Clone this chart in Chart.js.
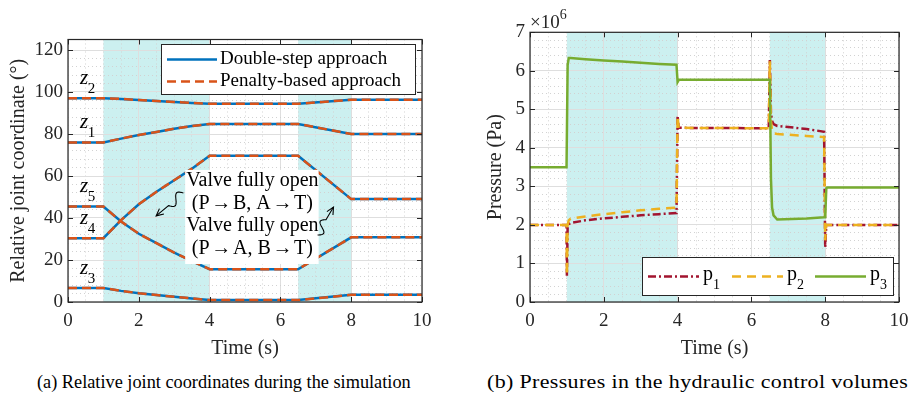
<!DOCTYPE html>
<html lang="en">
<head>
    <meta charset="UTF-8">
    <title>Joint coordinates and pressures</title>
    <script src="https://cdn.jsdelivr.net/npm/chart.js"></script>
    <style>
        body {
            margin: 0;
            width: 917px;
            height: 401px;
            position: relative;
            overflow: hidden;
            background: #fff;
            font-family: 'Liberation Serif', 'Times New Roman', serif;
        }
        .panel { position: absolute; top: 0; height: 365px; }
        #panelA { left: 0; width: 460px; }
        #panelB { left: 460px; width: 457px; }
        .caption {
            position: absolute;
            top: 372px;
            font-family: 'Liberation Serif', serif;
            font-size: 18.3px;
            white-space: nowrap;
            color: #000;
        }
        #capB { transform: scaleX(1.2); transform-origin: left center; letter-spacing: 0.3px; }
    </style>
</head>
<body>
    <div class="panel" id="panelA"><canvas id="jointChart"></canvas></div>
    <div class="panel" id="panelB"><canvas id="pressureChart"></canvas></div>
    <div class="caption" id="capA" style="left: 37px;">(a) Relative joint coordinates during the simulation</div>
    <div class="caption" id="capB" style="left: 487px;">(b) Pressures in the hydraulic control volumes</div>

    <script>
        // ---- data: (a) relative joint coordinates (deg) ----
        const timeA = [0, 1, 1.5, 2, 2.5, 3, 3.5, 4, 6.5, 8, 10];
        const z1 = [76, 76, 77.8, 79.5, 81, 82.5, 83.8, 84.8, 84.8, 80, 80];
        const z2 = [97, 97, 96.7, 96.2, 95.7, 95.2, 94.8, 94.4, 94.4, 96.3, 96.3];
        const z3 = [6.7, 6.7, 5.3, 4.2, 3.3, 2.5, 1.7, 0.9, 0.9, 3.4, 3.4];
        const z4 = [30.4, 30.4, 39, 46.5, 52.5, 58, 63.5, 69.6, 69.6, 49, 49];
        const z5 = [45.5, 45.5, 38.3, 32.5, 28, 23.5, 19.5, 15.6, 15.6, 30.8, 30.8];
        const jointNames = ['1', '2', '3', '4', '5'];

        // ---- data: (b) pressures (x 10^6 Pa) ----
        const timeB = [0, 0.99, 1.0, 1.02, 1.05, 1.1, 1.5, 2, 2.5, 3, 3.5, 3.97, 4.0, 4.03, 4.05,
                       6.47, 6.5, 6.53, 6.56, 6.6, 6.7, 7.5, 7.97, 8.0, 8.03, 8.05, 10];
        const p1 = [2.0, 2.0, 0.68, 1.95, 2.02, 2.05, 2.12, 2.17, 2.21, 2.25, 2.28, 2.31, 4.83, 4.52, 4.52,
                    4.51, 6.28, 4.9, 4.7, 4.62, 4.57, 4.49, 4.42, 1.42, 2.0, 2.0, 2.0];
        const p2 = [2.0, 2.0, 0.7, 2.0, 2.12, 2.16, 2.22, 2.28, 2.33, 2.38, 2.42, 2.45, 4.83, 4.52, 4.52,
                    4.51, 6.25, 4.7, 4.45, 4.38, 4.36, 4.31, 4.28, 1.6, 2.0, 2.0, 2.0];
        const p3 = [3.5, 3.5, 3.5, 6.15, 6.33, 6.33, 6.3, 6.27, 6.24, 6.21, 6.18, 6.16, 5.71, 5.76, 5.77,
                    5.77, 5.77, 3.2, 2.45, 2.25, 2.14, 2.17, 2.2, 2.2, 2.95, 2.97, 2.97];

        // valve fully open intervals (s)
        const openIntervals = [[1, 4], [6.5, 8]];

        const SERIF = "'Liberation Serif', 'Times New Roman', serif";
        const AXIS_COLOR = '#262626';
        const BLUE = '#0072BD', ORANGE = '#D95319';
        const RED = '#A2142F', YELLOW = '#EDB120', GREEN = '#77AC30';
        const DASH_ORANGE = [9, 5], DASH_RED = [8, 3, 2, 3], DASH_YELLOW = [9, 6];

        Chart.defaults.font.family = SERIF;
        Chart.defaults.color = AXIS_COLOR;

        function toPoints(times, values) {
            return times.map((t, i) => ({ x: t, y: values[i] }));
        }

        // grid: solid for major ticks, dotted for minor ones
        function gridFor(isMajor) {
            return {
                grid: {
                    drawTicks: false,
                    lineWidth: 1,
                    color: c => (c.tick && isMajor(c.tick.value)) ? '#dedede' : '#d2d2d2'
                },
                border: {
                    display: false,
                    dash: c => (c.tick && isMajor(c.tick.value)) ? [] : [1, 3]
                }
            };
        }
        const majorX = v => Math.abs(v % 2) < 1e-9;

        // light cyan bands where the valve is open
        const shadePlugin = {
            id: 'shade',
            beforeDraw(chart) {
                const { ctx, chartArea: a, scales: { x } } = chart;
                ctx.save();
                ctx.fillStyle = 'rgb(204,240,240)';
                openIntervals.forEach(([s, e]) => {
                    const x0 = x.getPixelForValue(s), x1 = x.getPixelForValue(e);
                    ctx.fillRect(x0, a.top, x1 - x0, a.bottom - a.top);
                });
                ctx.restore();
            }
        };

        // axes box with inward tick marks on all four sides
        const boxPlugin = {
            id: 'box',
            afterDatasetsDraw(chart) {
                const { ctx, chartArea: a, scales: { x, y } } = chart;
                const tl = 5;
                ctx.save();
                ctx.strokeStyle = AXIS_COLOR;
                ctx.lineWidth = 1;
                ctx.beginPath();
                x.ticks.filter(t => t.label !== '').forEach(t => {
                    const px = Math.round(x.getPixelForValue(t.value)) + 0.5;
                    ctx.moveTo(px, a.bottom); ctx.lineTo(px, a.bottom - tl);
                    ctx.moveTo(px, a.top); ctx.lineTo(px, a.top + tl);
                });
                y.ticks.filter(t => t.label !== '').forEach(t => {
                    const py = Math.round(y.getPixelForValue(t.value)) + 0.5;
                    ctx.moveTo(a.left, py); ctx.lineTo(a.left + tl, py);
                    ctx.moveTo(a.right, py); ctx.lineTo(a.right - tl, py);
                });
                ctx.stroke();
                ctx.lineWidth = 1.2;
                ctx.strokeRect(a.left, a.top, a.right - a.left, a.bottom - a.top);
                ctx.restore();
            }
        };

        function strokeSample(ctx, x0, x1, y, color, dash, width) {
            ctx.save();
            ctx.strokeStyle = color;
            ctx.lineWidth = width;
            ctx.setLineDash(dash);
            ctx.beginPath();
            ctx.moveTo(x0, y);
            ctx.lineTo(x1, y);
            ctx.stroke();
            ctx.restore();
        }

        function legendFrame(ctx, x, y, w, h) {
            ctx.save();
            ctx.fillStyle = '#fff';
            ctx.fillRect(x, y, w, h);
            ctx.strokeStyle = AXIS_COLOR;
            ctx.lineWidth = 1;
            ctx.strokeRect(x + 0.5, y + 0.5, w, h);
            ctx.restore();
        }

        function squiggleArrow(ctx, x0, y0, x1, y1) {
            const dx = x1 - x0, dy = y1 - y0, len = Math.hypot(dx, dy);
            const ux = dx / len, uy = dy / len, nx = -uy, ny = ux;
            const waveLen = len * 0.55;
            ctx.beginPath();
            ctx.moveTo(x0, y0);
            for (let s = 0; s <= waveLen; s += 0.5) {
                const off = 4.5 * Math.sin(s / waveLen * 2 * Math.PI);
                ctx.lineTo(x0 + ux * s + nx * off, y0 + uy * s + ny * off);
            }
            ctx.lineTo(x1, y1);
            ctx.stroke();
            const ang = Math.atan2(dy, dx), hl = 8;
            ctx.beginPath();
            ctx.moveTo(x1 - hl * Math.cos(ang - 0.45), y1 - hl * Math.sin(ang - 0.45));
            ctx.lineTo(x1, y1);
            ctx.lineTo(x1 - hl * Math.cos(ang + 0.45), y1 - hl * Math.sin(ang + 0.45));
            ctx.stroke();
        }

        // labels z_i, the valve notes and the legend of panel (a)
        const jointNotes = {
            id: 'jointNotes',
            afterDraw(chart) {
                const { ctx, scales: { x, y } } = chart;
                ctx.save();
                ctx.fillStyle = '#000';
                ctx.textAlign = 'left';
                ctx.textBaseline = 'alphabetic';
                [z1, z2, z3, z4, z5].forEach((series, i) => {
                    const px = x.getPixelForValue(0.34);
                    const py = y.getPixelForValue(series[0]);
                    ctx.font = 'italic 21px ' + SERIF;
                    ctx.fillText('z', px, py - 14);
                    const w = ctx.measureText('z').width;
                    ctx.font = '15px ' + SERIF;
                    ctx.fillText(jointNames[i], px + w - 0.5, py - 5);
                });

                // white note box
                const bx0 = x.getPixelForValue(3.31), bx1 = x.getPixelForValue(7.08);
                const by0 = y.getPixelForValue(62.9), by1 = y.getPixelForValue(18.1);
                ctx.fillStyle = '#fff';
                ctx.fillRect(bx0, by0, bx1 - bx0, by1 - by0);
                ctx.fillStyle = '#000';
                ctx.font = '20px ' + SERIF;
                ctx.textAlign = 'center';
                ctx.textBaseline = 'middle';
                const cx = x.getPixelForValue(5.21);
                [['Valve fully open', 57.6], ['(P\u200a\u2192\u200aB, A\u200a\u2192\u200aT)', 46.7],
                 ['Valve fully open', 36.2], ['(P\u200a\u2192\u200aA, B\u200a\u2192\u200aT)', 25.2]].forEach(([txt, v]) => {
                    ctx.fillText(txt, cx, y.getPixelForValue(v));
                });

                ctx.strokeStyle = '#000';
                ctx.lineWidth = 1.1;
                squiggleArrow(ctx, x.getPixelForValue(3.26), y.getPixelForValue(51.9),
                              x.getPixelForValue(2.49), y.getPixelForValue(41));
                squiggleArrow(ctx, x.getPixelForValue(7.05), y.getPixelForValue(31.9),
                              x.getPixelForValue(7.5), y.getPixelForValue(45.2));

                // legend
                legendFrame(ctx, 161, 44, 254, 50);
                strokeSample(ctx, 167, 217, 59.5, BLUE, [], 2.5);
                strokeSample(ctx, 167, 217, 81.5, ORANGE, DASH_ORANGE, 2.5);
                ctx.fillStyle = '#000';
                ctx.font = '19px ' + SERIF;
                ctx.textAlign = 'left';
                ctx.textBaseline = 'middle';
                ctx.fillText('Double-step approach', 220, 59);
                ctx.fillText('Penalty-based approach', 220, 81);
                ctx.restore();
            }
        };

        // exponent label and legend of panel (b)
        const pressureNotes = {
            id: 'pressureNotes',
            afterDraw(chart) {
                const { ctx, chartArea: a } = chart;
                ctx.save();
                ctx.fillStyle = AXIS_COLOR;
                ctx.textAlign = 'left';
                ctx.textBaseline = 'alphabetic';
                ctx.font = '19px ' + SERIF;
                ctx.fillText('\u00d710', a.left, 28);
                const w = ctx.measureText('\u00d710').width;
                ctx.font = '14px ' + SERIF;
                ctx.fillText('6', a.left + w, 19);

                legendFrame(ctx, 182, 257, 251, 38);
                const entries = [
                    { x: 188, color: RED, dash: DASH_RED, sub: '1' },
                    { x: 272, color: YELLOW, dash: DASH_YELLOW, sub: '2' },
                    { x: 355, color: GREEN, dash: [], sub: '3' }
                ];
                entries.forEach(e => {
                    strokeSample(ctx, e.x, e.x + 51, 276.5, e.color, e.dash, 2.5);
                    ctx.fillStyle = '#000';
                    ctx.font = '20px ' + SERIF;
                    ctx.fillText('p', e.x + 55, 280);
                    const pw = ctx.measureText('p').width;
                    ctx.font = '14px ' + SERIF;
                    ctx.fillText(e.sub, e.x + 55 + pw, 289);
                });
                ctx.restore();
            }
        };

        const tickFont = { size: 19 };
        const titleFont = { size: 20 };

        // ---- (a) ----
        const jointDatasets = [];
        [z1, z2, z3, z4, z5].forEach(series => {
            jointDatasets.push({
                label: 'Double-step approach', data: toPoints(timeA, series),
                borderColor: BLUE, borderWidth: 2.5, order: 2
            });
            jointDatasets.push({
                label: 'Penalty-based approach', data: toPoints(timeA, series),
                borderColor: ORANGE, borderWidth: 2.5, borderDash: DASH_ORANGE, order: 1
            });
        });

        new Chart(document.getElementById('jointChart'), {
            type: 'line',
            data: { datasets: jointDatasets },
            options: {
                responsive: true,
                maintainAspectRatio: false,
                animation: false,
                layout: { padding: { top: 39.5, right: 38, left: 0, bottom: 0 } },
                elements: { point: { radius: 0 }, line: { tension: 0, fill: false } },
                plugins: { legend: { display: false }, tooltip: { enabled: false } },
                scales: {
                    x: {
                        type: 'linear', min: 0, max: 10,
                        afterFit: s => { s.height = 63; },
                        ticks: { stepSize: 0.5, autoSkip: false, maxRotation: 0, padding: 8, font: tickFont,
                                 callback: v => majorX(v) ? v : '' },
                        title: { display: true, text: 'Time (s)', font: titleFont, padding: { top: 0, bottom: 4 } },
                        ...gridFor(majorX)
                    },
                    y: {
                        min: 0, max: 125,
                        afterFit: s => { s.width = 68; },
                        ticks: { stepSize: 4, autoSkip: false, padding: 5, font: tickFont,
                                 callback: v => v % 20 === 0 ? v : '' },
                        title: { display: true, text: 'Relative joint coordinate (\u00b0)', font: titleFont,
                                 padding: { top: 7, bottom: 0 } },
                        ...gridFor(v => v % 20 === 0)
                    }
                }
            },
            plugins: [shadePlugin, boxPlugin, jointNotes]
        });

        // ---- (b) ----
        const majorP = v => Math.abs(v - Math.round(v)) < 1e-6;
        new Chart(document.getElementById('pressureChart'), {
            type: 'line',
            data: {
                datasets: [
                    { label: 'p1', data: toPoints(timeB, p1), borderColor: RED, borderWidth: 2.5,
                      borderDash: DASH_RED, order: 3 },
                    { label: 'p2', data: toPoints(timeB, p2), borderColor: YELLOW, borderWidth: 2.5,
                      borderDash: DASH_YELLOW, order: 2 },
                    { label: 'p3', data: toPoints(timeB, p3), borderColor: GREEN, borderWidth: 2.5, order: 1 }
                ]
            },
            options: {
                responsive: true,
                maintainAspectRatio: false,
                animation: false,
                layout: { padding: { top: 32.3, right: 18, left: 0, bottom: 0 } },
                elements: { point: { radius: 0 }, line: { tension: 0, fill: false } },
                plugins: { legend: { display: false }, tooltip: { enabled: false } },
                scales: {
                    x: {
                        type: 'linear', min: 0, max: 10,
                        afterFit: s => { s.height = 63; },
                        ticks: { stepSize: 0.5, autoSkip: false, maxRotation: 0, padding: 8, font: tickFont,
                                 callback: v => majorX(v) ? v : '' },
                        title: { display: true, text: 'Time (s)', font: titleFont, padding: { top: 0, bottom: 4 } },
                        ...gridFor(majorX)
                    },
                    y: {
                        min: 0, max: 7,
                        afterFit: s => { s.width = 70; },
                        ticks: { stepSize: 0.2, autoSkip: false, padding: 5, font: tickFont,
                                 callback: v => majorP(v) ? Math.round(v) : '' },
                        title: { display: true, text: 'Pressure (Pa)', font: titleFont,
                                 padding: { top: 24, bottom: 0 } },
                        ...gridFor(majorP)
                    }
                }
            },
            plugins: [shadePlugin, boxPlugin, pressureNotes]
        });
    </script>
</body>
</html>
